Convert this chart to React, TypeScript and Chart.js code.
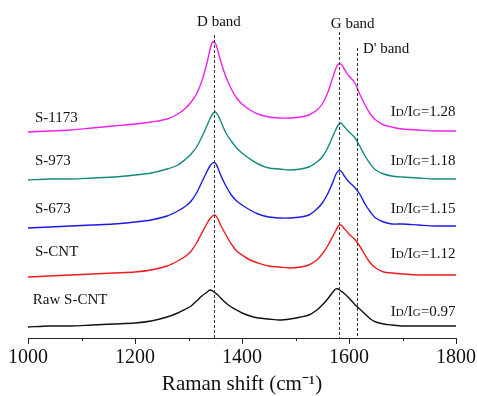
import { useEffect, useRef } from "react";
import { Chart, registerables } from "chart.js";

Chart.register(...registerables);

// Raman shift (cm^-1)
const wavenumbers = [
  1000, 1040, 1080, 1120, 1160, 1200, 1230, 1260, 1280, 1295, 1305, 1315, 1325, 1335, 1340, 1345, 1350,
  1355, 1360, 1370, 1380, 1390, 1400, 1415, 1430, 1450, 1470, 1490, 1510, 1525, 1540, 1550, 1560, 1570,
  1575, 1580, 1585, 1590, 1600, 1610, 1620, 1630, 1640, 1650, 1665, 1680, 1700, 1730, 1760, 1800,
];

// Stacked intensities (a.u.), already offset as in the figure
const rawSCNT = [
  12, 13, 13, 14, 15, 16, 18, 22, 26, 30, 33, 38, 43, 47, 49, 48, 46,
  44, 41, 36, 32, 29, 26, 23, 21, 20, 19, 20, 22, 24, 29, 34, 40, 47,
  50, 50, 48, 46, 41, 35, 30, 25, 20, 17, 15, 14, 13, 13, 13, 13,
];
const sCNT = [
  62, 63, 64, 65, 66, 67, 69, 73, 78, 83, 88, 96, 106, 116, 120, 123, 124,
  120, 114, 104, 95, 88, 84, 79, 76, 73, 72, 71, 72, 74, 79, 85, 93, 103,
  108, 113, 114, 111, 105, 100, 93, 84, 76, 71, 67, 66, 65, 64, 64, 64,
];
const s673 = [
  111, 112, 113, 114, 115, 117, 119, 123, 128, 133, 138, 146, 157, 168, 173, 176, 176,
  171, 164, 153, 144, 138, 134, 129, 125, 122, 121, 121, 122, 124, 130, 136, 145, 157,
  164, 168, 168, 164, 157, 152, 145, 135, 127, 121, 117, 115, 115, 114, 113, 113,
];
const s973 = [
  159, 160, 160, 161, 162, 164, 166, 170, 174, 180, 185, 192, 202, 214, 220, 225, 227,
  224, 218, 206, 198, 191, 186, 180, 175, 171, 170, 169, 170, 172, 177, 182, 191, 203,
  209, 214, 216, 213, 207, 202, 193, 183, 175, 169, 165, 163, 162, 161, 160, 160,
];
const s1173 = [
  207, 208, 209, 211, 213, 215, 217, 220, 225, 231, 237, 245, 258, 277, 289, 297, 296,
  288, 278, 262, 250, 241, 235, 229, 225, 222, 221, 221, 222, 224, 229, 235, 246, 262,
  270, 275, 275, 271, 263, 257, 245, 234, 225, 219, 214, 212, 210, 209, 208, 208,
];

const seriesNames = ["Raw S-CNT", "S-CNT", "S-673", "S-973", "S-1173"];
const seriesData = [rawSCNT, sCNT, s673, s973, s1173];
const seriesColors = ["#111111", "#ee1c1c", "#1a1ae6", "#138a80", "#f020f0"];
const ratioValues = ["0.97", "1.12", "1.15", "1.18", "1.28"];
// label anchor heights (a.u.)
const nameLevels = [39, 87, 130, 178, 221];
const ratioLevels = [28, 86, 131, 179, 228];

const bandNames = ["D band", "G band", "D' band"];
const bandPositions = [1347, 1582, 1615];
const bandLineTops = [304, 307, 291];

const xMin = 1000;
const xMax = 1800;
const minorStep = 100;
const majorStep = 200;

const SERIF = '"Liberation Serif", "Times New Roman", serif';

function drawRatio(ctx: CanvasRenderingContext2D, rightX: number, cy: number, value: string) {
  const big = `15px ${SERIF}`;
  const small = `11px ${SERIF}`;
  const parts: [string, string][] = [
    ["I", big],
    ["D", small],
    ["/I", big],
    ["G", small],
    ["=" + value, big],
  ];
  let total = 0;
  const widths = parts.map(([t, f]) => {
    ctx.font = f;
    const w = ctx.measureText(t).width;
    total += w;
    return w;
  });
  let x = rightX - total;
  const base = cy + 5;
  ctx.textAlign = "left";
  ctx.textBaseline = "alphabetic";
  parts.forEach(([t, f], i) => {
    ctx.font = f;
    ctx.fillText(t, x, base);
    x += widths[i];
  });
}

const annotations = {
  id: "annotations",
  afterDatasetsDraw(chart: any) {
    const { ctx, chartArea, scales } = chart;
    const x = scales.x;
    const y = scales.y;
    ctx.save();
    // tick marks
    ctx.strokeStyle = "#222";
    ctx.lineWidth = 1;
    for (let v = xMin; v <= xMax; v += minorStep) {
      const px = Math.round(x.getPixelForValue(v)) + 0.5;
      const len = v % majorStep === 0 ? 6 : 3;
      ctx.beginPath();
      ctx.moveTo(px, chartArea.bottom);
      ctx.lineTo(px, chartArea.bottom + len);
      ctx.stroke();
    }
    // dashed band lines
    ctx.setLineDash([3, 2]);
    ctx.strokeStyle = "#333";
    bandPositions.forEach((b, i) => {
      const px = Math.round(x.getPixelForValue(b)) + 0.5;
      ctx.beginPath();
      ctx.moveTo(px, y.getPixelForValue(bandLineTops[i]));
      ctx.lineTo(px, chartArea.bottom);
      ctx.stroke();
    });
    ctx.setLineDash([]);
    // band labels
    ctx.fillStyle = "#111";
    ctx.font = `15px ${SERIF}`;
    ctx.textBaseline = "middle";
    ctx.textAlign = "center";
    ctx.fillText(bandNames[0], x.getPixelForValue(1357), y.getPixelForValue(317));
    ctx.fillText(bandNames[1], x.getPixelForValue(1607), y.getPixelForValue(315));
    ctx.textAlign = "left";
    ctx.fillText(bandNames[2], x.getPixelForValue(1626), y.getPixelForValue(290));
    // series names
    seriesNames.forEach((n, i) => {
      ctx.font = `15px ${SERIF}`;
      ctx.textAlign = "left";
      ctx.textBaseline = "middle";
      ctx.fillText(n, x.getPixelForValue(i === 0 ? 1009 : 1013), y.getPixelForValue(nameLevels[i]));
    });
    // ratios
    ratioValues.forEach((r, i) => {
      drawRatio(ctx, x.getPixelForValue(1799), y.getPixelForValue(ratioLevels[i]), r);
    });
    ctx.restore();
  },
};

export default function App() {
  const ref = useRef<HTMLCanvasElement>(null);
  useEffect(() => {
    if (!ref.current) return;
    const chart = new Chart(ref.current, {
      type: "line",
      data: {
        datasets: seriesData.map((s, i) => ({
          label: seriesNames[i],
          data: wavenumbers.map((w, j) => ({ x: w, y: s[j] })),
          borderColor: seriesColors[i],
          borderWidth: 1.4,
          pointRadius: 0,
          tension: 0.3,
          fill: false,
        })),
      },
      options: {
        animation: false,
        responsive: false,
        maintainAspectRatio: false,
        layout: { padding: { left: 28, right: 21, top: 0, bottom: 0 } },
        plugins: { legend: { display: false }, tooltip: { enabled: false } },
        scales: {
          x: {
            type: "linear",
            min: xMin,
            max: xMax,
            afterFit: (scale: any) => {
              scale.height = 58;
              scale.paddingLeft = 0;
              scale.paddingRight = 0;
            },
            grid: { display: false, drawTicks: false },
            border: { display: true, color: "#222", width: 1 },
            ticks: {
              stepSize: majorStep,
              padding: 8,
              color: "#111",
              maxRotation: 0,
              callback: (v: any) => String(v),
              font: { family: SERIF, size: 20, lineHeight: 1.2 },
            },
            title: {
              display: true,
              text: "Raman shift (cm⁻¹)",
              color: "#111",
              padding: { top: 4, bottom: 1.5 },
              font: { family: SERIF, size: 21, lineHeight: 1.0 },
            },
          },
          y: { display: false, min: 1, max: 339 },
        },
      },
      plugins: [annotations],
    });
    return () => chart.destroy();
  }, []);
  return (
    <canvas
      ref={ref}
      width={477}
      height={396}
      style={{ position: "absolute", left: 0, top: 0, width: 477, height: 396, display: "block" }}
    />
  );
}
